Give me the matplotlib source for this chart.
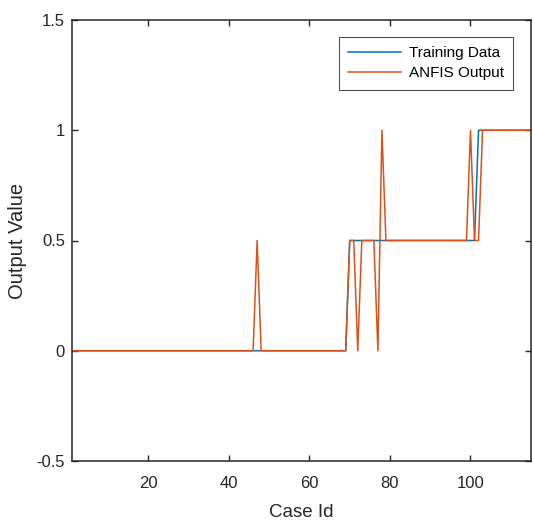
import numpy as np
import matplotlib.pyplot as plt

plt.rcParams['font.family'] = ['Liberation Sans', 'DejaVu Sans']

# case ids 1..115, values as (value, run length)
training_runs = [(0, 69), (0.5, 32), (1, 14)]
anfis_runs = [(0, 46), (0.5, 1), (0, 22), (0.5, 2), (0, 1), (0.5, 4), (0, 1),
              (1, 1), (0.5, 21), (1, 1), (0.5, 2), (1, 13)]

def expand(runs):
    out = []
    for v, n in runs:
        out += [v] * n
    return np.array(out)

training = expand(training_runs)
anfis = expand(anfis_runs)
case_id = np.arange(1, len(training) + 1)

fig = plt.figure(figsize=(5.33, 5.2), dpi=100)
ax = fig.add_axes([0.135, 0.1135, 0.861, 0.848])

ax.plot(case_id, training, color='#0072BD', lw=1.1, label='Training Data')
ax.plot(case_id, anfis, color='#D95319', lw=1.1, label='ANFIS Output')

ax.set_xlim(1, 115)
ax.set_ylim(-0.5, 1.5)
ax.set_xticks([20, 40, 60, 80, 100])
ax.set_yticks([-0.5, 0, 0.5, 1, 1.5])
ax.set_yticklabels(['-0.5', '0', '0.5', '1', '1.5'])
ax.tick_params(direction='in', length=4, width=1, top=True, right=True,
               labelsize=12, colors='#262626', labelcolor='#262626')
ax.tick_params(axis='x', pad=11)
ax.tick_params(axis='y', pad=5)
for s in ax.spines.values():
    s.set_linewidth(1.1)
    s.set_color('#262626')

ax.set_xlabel('Case Id', fontsize=13.5, color='#262626', labelpad=9)
ax.set_ylabel('Output Value', fontsize=14.5, color='#262626', labelpad=7)

leg = ax.legend(loc='upper right', bbox_to_anchor=(0.961, 0.961), borderaxespad=0,
                fontsize=11, frameon=True, fancybox=False, edgecolor='#262626',
                handlelength=3.5, handletextpad=0.5, borderpad=0.6, labelspacing=0.4)
leg.get_frame().set_linewidth(0.8)

fig.savefig('out.png', dpi=100)
